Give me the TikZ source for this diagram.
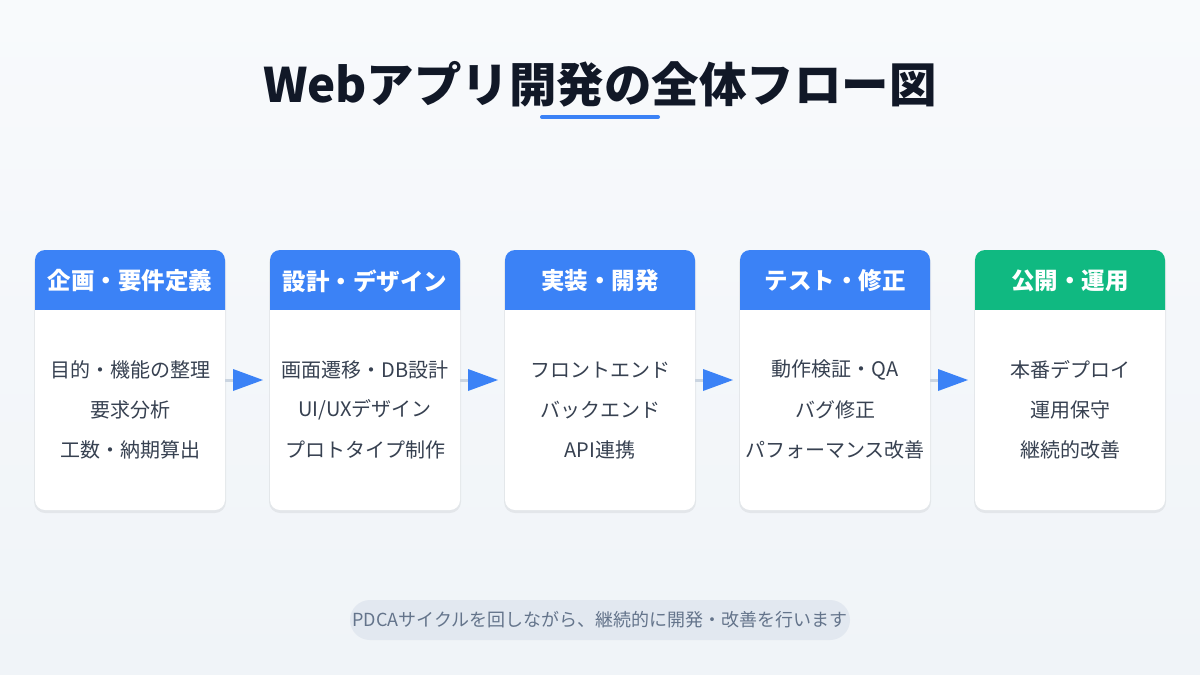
\documentclass[tikz,border=0pt]{standalone}
\usepackage{fontspec}
\setmainfont{Noto Sans CJK JP}
\newfontfamily\titlefont{Noto Sans CJK JP Black}
\usetikzlibrary{arrows.meta,calc}
\definecolor{bgtop}{HTML}{F8FAFC}
\definecolor{bgbot}{HTML}{F0F4F8}
\definecolor{titlec}{HTML}{111827}
\definecolor{blue}{HTML}{3B82F6}
\definecolor{green}{HTML}{10B981}
\definecolor{bodyc}{HTML}{374151}
\definecolor{linec}{HTML}{CBD5E1}
\definecolor{pillc}{HTML}{E2E8F0}
\definecolor{pilltext}{HTML}{64748B}
\tikzset{
  card/.style={fill=white, rounded corners=10pt, draw=none},
  cardshadow/.style={fill=black, opacity=0.06, rounded corners=11pt},
  headtext/.style={text=white, font=\bfseries\fontsize{23.5}{28}\selectfont, anchor=center},
  bodytext/.style={text=bodyc, font=\fontsize{20}{24}\selectfont, anchor=center},
  conn/.style={draw=linec, line width=3pt},
  tip/.style={fill=blue, draw=none},
}
\begin{document}
\begin{tikzpicture}[x=1pt,y=-1pt]
\shade[top color=bgtop, bottom color=bgbot] (0,0) rectangle (1200,675);
\useasboundingbox (0,0) rectangle (1200,675);
\node[text=titlec, font=\titlefont\fontsize{47.5}{54}\selectfont] (title) at (600,84) {Webアプリ開発の全体フロー図};
\draw[blue, line width=4pt, line cap=round] (542,117) -- (658,117);
% cards
\foreach \i/\x/\col/\head/\la/\lb/\lc in {
  1/35/blue/{企画・要件定義}/{目的・機能の整理}/{要求分析}/{工数・納期算出},
  2/270/blue/{設計・デザイン}/{画面遷移・DB設計}/{UI/UXデザイン}/{プロトタイプ制作},
  3/505/blue/{実装・開発}/{フロントエンド}/{バックエンド}/{API連携},
  4/740/blue/{テスト・修正}/{動作検証・QA}/{バグ修正}/{パフォーマンス改善},
  5/975/green/{公開・運用}/{本番デプロイ}/{運用保守}/{継続的改善}}{
  \fill[cardshadow] (\x-1,252) rectangle (\x+191,513);
  \fill[card] (\x,250) rectangle (\x+190,510);
  \fill[\col, rounded corners=10pt] (\x,250) rectangle (\x+190,320);
  \fill[white] (\x,310) rectangle (\x+190,322);
  \coordinate (r\i) at (\x+190,380);
  \node[headtext] (h\i) at (\x+95,281) {\head};
  \node[bodytext] (a\i) at (\x+95,370) {\la};
  \node[bodytext] (b\i) at (\x+95,410) {\lb};
  \node[bodytext] (d\i) at (\x+95,450) {\lc};
}
% connectors
\foreach \i in {1,2,3,4}{
  \draw[conn] (r\i) -- ++(9,0);
  \fill[tip] ($(r\i)+(8,-11)$) -- ($(r\i)+(38,0)$) -- ($(r\i)+(8,11)$) -- cycle;
}
% bottom pill
\node[fill=pillc, rounded corners=20pt, minimum width=500pt, minimum height=40pt, text=pilltext, font=\fontsize{18}{22}\selectfont, inner sep=0pt] (pill) at (600,620) {PDCAサイクルを回しながら、継続的に開発・改善を行います};
\end{tikzpicture}
\end{document}
